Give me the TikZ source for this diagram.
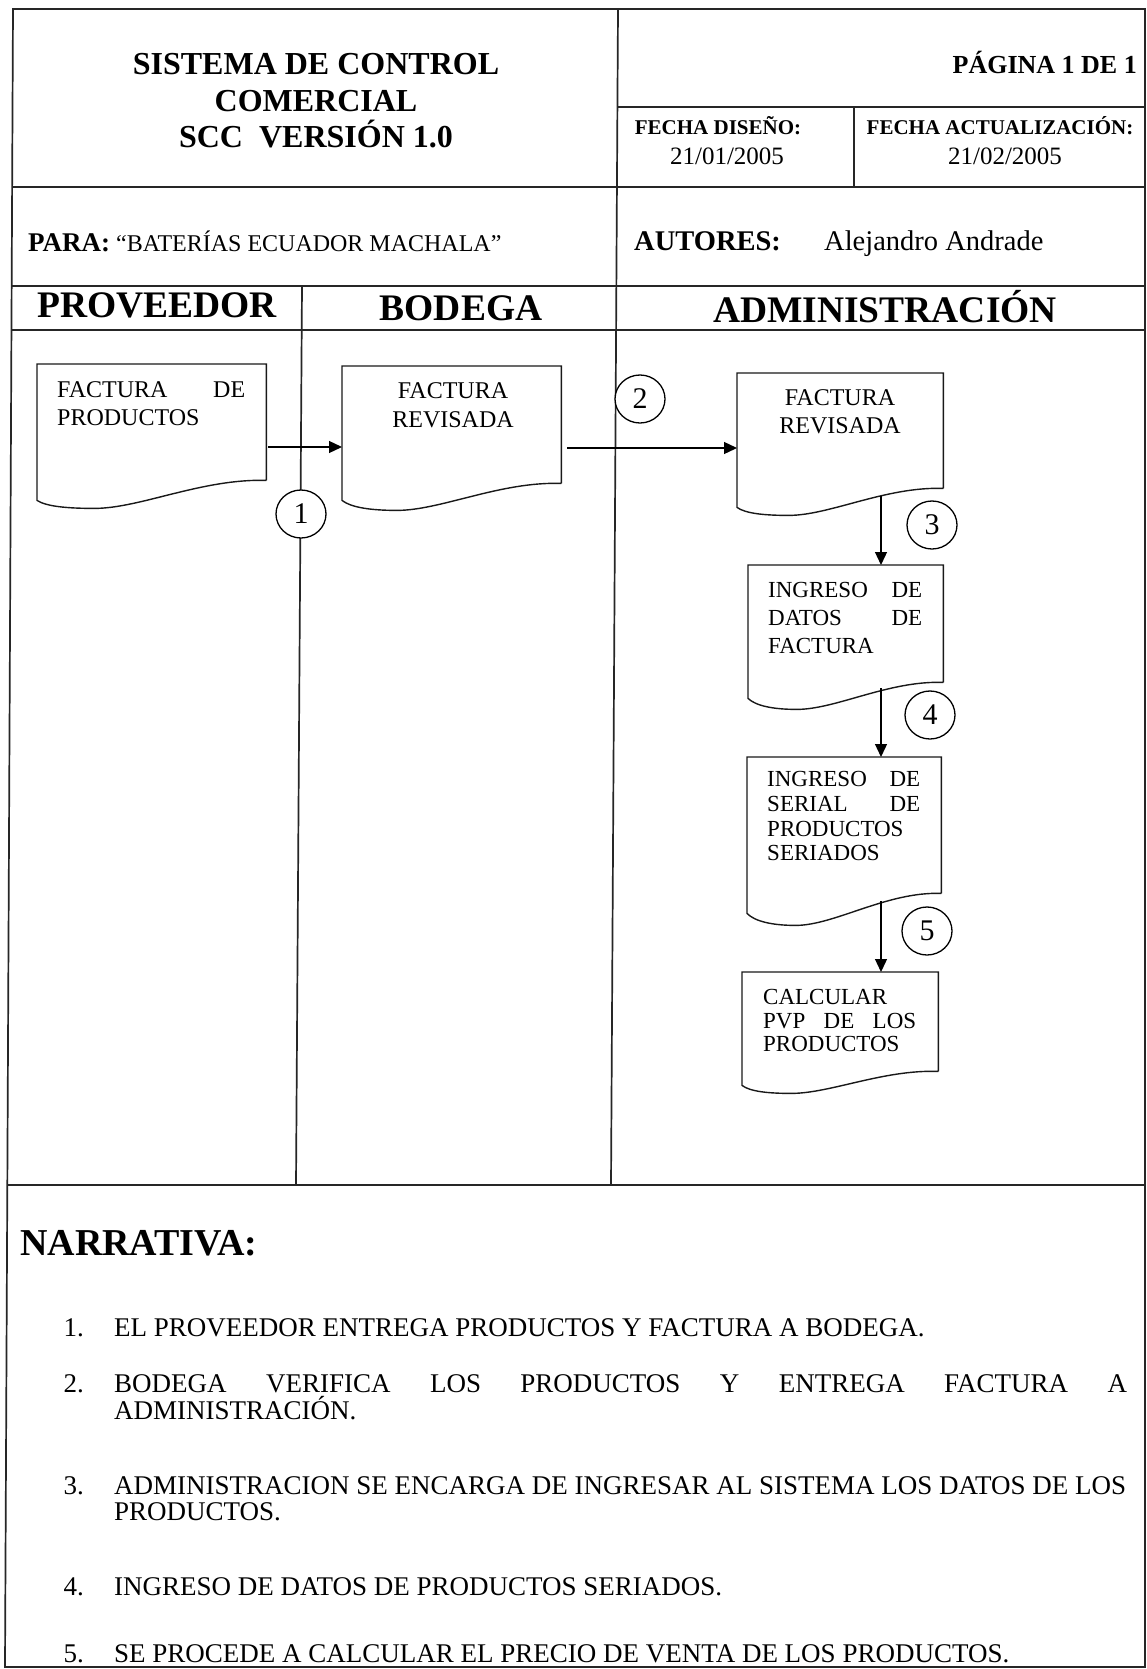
\documentclass[tikz,border=0pt]{standalone}
\usepackage{fontspec}
\setmainfont{Liberation Serif}
\usetikzlibrary{arrows.meta,calc,shapes.geometric}

\tikzset{
  frame/.style={line width=1.7pt, draw=black!85},
  docbox/.style={draw=none, inner sep=0pt, anchor=north west},
  docline/.style={line width=1.4pt, draw=black!90},
  arr/.style={line width=1.3pt, -{Triangle[length=13pt,width=12pt]}},
  numcirc/.style={ellipse, draw, line width=1.3pt, fill=white, minimum width=50pt, minimum height=48pt, inner sep=0pt, font=\fontsize{30}{30}\selectfont},
  txt/.style={inner sep=0pt, anchor=base west},
  ctxt/.style={inner sep=0pt, anchor=base},
  titlef/.style={font=\bfseries\fontsize{32}{32}\selectfont},
  lanef/.style={font=\bfseries\fontsize{37.5}{38}\selectfont},
  docf/.style={font=\fontsize{24}{24}\selectfont},
  boxf/.style={font=\fontsize{23}{23}\selectfont},
  narf/.style={font=\fontsize{27}{27}\selectfont},
}

\newcommand{\docshape}[3]{%
  \draw[docline] (#1.south east) -- (#1.north east) -- (#1.north west) -- ($(#1.south west)+(0,#2)$)
    .. controls ($(#1.south west)!0.04!(#1.south east)+(0,{(#2+#3)/2+2})$) and ($(#1.south west)!0.13!(#1.south east)+(0,#3)$)
    .. ($(#1.south west)!0.25!(#1.south east)+(0,#3)$)
    .. controls ($(#1.south west)!0.45!(#1.south east)+(0,#3)$) and ($(#1.south west)!0.72!(#1.south east)+(0,-2)$)
    .. (#1.south east);}

\begin{document}
\begin{tikzpicture}[x=1pt,y=-1pt]
\useasboundingbox[fill=white] (0,0) rectangle (1147,1669);

% ---------- frame ----------
\coordinate (lt) at (13,9);
\coordinate (lb) at (5,1667);
\coordinate (rt) at (1145,9);
\coordinate (rb) at (1145,1667);
\draw[frame] (lt) -- (rt) -- (rb) -- (lb) -- cycle;
\coordinate (admTop) at (618,9);
\coordinate (admBot) at (611,1185);
\draw[frame] (admTop) -- (admBot);
\draw[frame] (618,107) -- (1145,107);
\draw[frame] (854,107) -- (854,187);
\draw[frame] (12.1,187) -- (1145,187);
\draw[frame] (11.7,286) -- (1145,286);
\draw[frame] (11.5,330) -- (1145,330);
\draw[frame] (7.3,1185) -- (1145,1185);
\coordinate (pbTop) at (302,286);
\coordinate (pbBot) at (296,1185);
\draw[frame] (pbTop) -- (pbBot);

% ---------- header texts ----------
\node[ctxt, titlef] (title1) at (316,75) {SISTEMA DE CONTROL};
\node[ctxt, titlef] (title2) at (316,112) {COMERCIAL};
\node[ctxt, titlef] (title3) at (316,148) {SCC\ \ VERSIÓN 1.0};
\node[inner sep=0pt, anchor=base east, font=\bfseries\fontsize{26}{26}\selectfont] (pagina) at (1137,74) {PÁGINA 1 DE 1};
\node[ctxt, font=\bfseries\fontsize{21}{21}\selectfont] (fdis) at (718,135) {FECHA DISEÑO:};
\node[ctxt, font=\fontsize{25}{25}\selectfont] (fdisv) at (727,165) {21/01/2005};
\node[ctxt, font=\bfseries\fontsize{21}{21}\selectfont] (fact) at (1000,135) {FECHA ACTUALIZACIÓN:};
\node[ctxt, font=\fontsize{25}{25}\selectfont] (factv) at (1005,165) {21/02/2005};
\node[txt, font=\fontsize{24}{24}\selectfont] (para) at (28,252) {{\bfseries\fontsize{27}{27}\selectfont PARA:} “BATERÍAS ECUADOR MACHALA”};
\node[txt, font=\bfseries\fontsize{28.5}{28.5}\selectfont] (autores) at (634,251) {AUTORES:};
\node[txt, font=\fontsize{28.5}{28.5}\selectfont] (autor) at (824,251) {Alejandro Andrade};

% ---------- lane headers ----------
\node[ctxt, lanef] (lprov) at (157,318) {PROVEEDOR};
\node[ctxt, lanef] (lbod) at (461,320) {BODEGA};
\node[ctxt, lanef] (ladm) at (885,323) {ADMINISTRACIÓN};

% ---------- documents ----------
\node[docbox, minimum width=229pt, minimum height=116pt] (d1) at (37,364) {};
\docshape{d1}{20}{28}
\node[txt, docf] (d1a) at (57,397) {\hbox to 188pt{FACTURA\hfill DE}};
\node[txt, docf] (d1b) at (57,425) {PRODUCTOS};

\node[docbox, minimum width=219pt, minimum height=117pt] (d2) at (342,366) {};
\docshape{d2}{17}{27}
\node[ctxt, docf] (d2a) at (453,398) {FACTURA};
\node[ctxt, docf] (d2b) at (453,427) {REVISADA};

\node[docbox, minimum width=206pt, minimum height=115pt] (d3) at (737,373) {};
\docshape{d3}{19}{27}
\node[ctxt, docf] (d3a) at (840,405) {FACTURA};
\node[ctxt, docf] (d3b) at (840,433) {REVISADA};

\node[docbox, minimum width=195pt, minimum height=117pt] (b4) at (748,565) {};
\docshape{b4}{16}{27}
\node[txt, boxf] (b4a) at (768,597) {\hbox to 154pt{INGRESO\hfill DE}};
\node[txt, boxf] (b4b) at (768,625) {\hbox to 154pt{DATOS\hfill DE}};
\node[txt, boxf] (b4c) at (768,653) {FACTURA};

\node[docbox, minimum width=194pt, minimum height=136pt] (b5) at (747,757) {};
\docshape{b5}{20}{32}
\node[txt, boxf] (b5a) at (767,786) {\hbox to 153pt{INGRESO\hfill DE}};
\node[txt, boxf] (b5b) at (767,811) {\hbox to 153pt{SERIAL\hfill DE}};
\node[txt, boxf] (b5c) at (767,836) {PRODUCTOS};
\node[txt, boxf] (b5d) at (767,860) {SERIADOS};

\node[docbox, minimum width=196pt, minimum height=99pt] (b6) at (742,972) {};
\docshape{b6}{14}{22}
\node[txt, boxf] (b6a) at (763,1004) {CALCULAR};
\node[txt, boxf] (b6b) at (763,1028) {\hbox to 153pt{PVP\hfill DE\hfill LOS}};
\node[txt, boxf] (b6c) at (763,1051) {PRODUCTOS};

% ---------- connectors ----------
\coordinate (r1) at (0,447);
\coordinate (r2) at (0,448);
\coordinate (ax) at (881,0);
\draw[arr] ($(d1.east |- r1)+(2,0)$) -- (d2.west |- r1);
\draw[arr] ($(d2.east |- r2)+(6,0)$) -- (d3.west |- r2);
\draw[arr] ($(ax |- d3.south)+(0,8)$) -- (ax |- b4.north);
\draw[arr] ($(ax |- b4.south)+(0,6)$) -- (ax |- b5.north);
\draw[arr] ($(ax |- b5.south)+(0,8)$) -- (ax |- b6.north);

% ---------- step numbers ----------
\node[numcirc] (c1) at (301,514) {1};
\node[numcirc] (c2) at (640,399) {2};
\node[numcirc] (c3) at (932,525) {3};
\node[numcirc] (c4) at (930,715) {4};
\node[numcirc] (c5) at (927,931) {5};

% ---------- narrative ----------
\node[txt, font=\bfseries\fontsize{38}{38}\selectfont] (narr) at (20,1255) {NARRATIVA:};

\node[inner sep=0pt, anchor=base east, narf] (n1) at (84,1336) {1.};
\node[txt, narf] (n1t) at (114,1336) {EL PROVEEDOR ENTREGA PRODUCTOS Y FACTURA A BODEGA.};

\node[inner sep=0pt, anchor=base east, narf] (n2) at (84,1392) {2.};
\node[txt, narf] (n2t) at (114,1392) {\hbox to 1013pt{BODEGA\hfill VERIFICA\hfill LOS\hfill PRODUCTOS\hfill Y\hfill ENTREGA\hfill FACTURA\hfill A}};
\node[txt, narf] (n2u) at (114,1419) {ADMINISTRACIÓN.};

\node[inner sep=0pt, anchor=base east, narf] (n3) at (84,1494) {3.};
\node[txt, narf] (n3t) at (114,1494) {ADMINISTRACION SE ENCARGA DE INGRESAR AL SISTEMA LOS DATOS DE LOS};
\node[txt, narf] (n3u) at (114,1520) {PRODUCTOS.};

\node[inner sep=0pt, anchor=base east, narf] (n4) at (84,1595) {4.};
\node[txt, narf] (n4t) at (114,1595) {INGRESO DE DATOS DE PRODUCTOS SERIADOS.};

\node[inner sep=0pt, anchor=base east, narf] (n5) at (84,1662) {5.};
\node[txt, narf] (n5t) at (114,1662) {SE PROCEDE A CALCULAR EL PRECIO DE VENTA DE LOS PRODUCTOS.};
\end{tikzpicture}
\end{document}
